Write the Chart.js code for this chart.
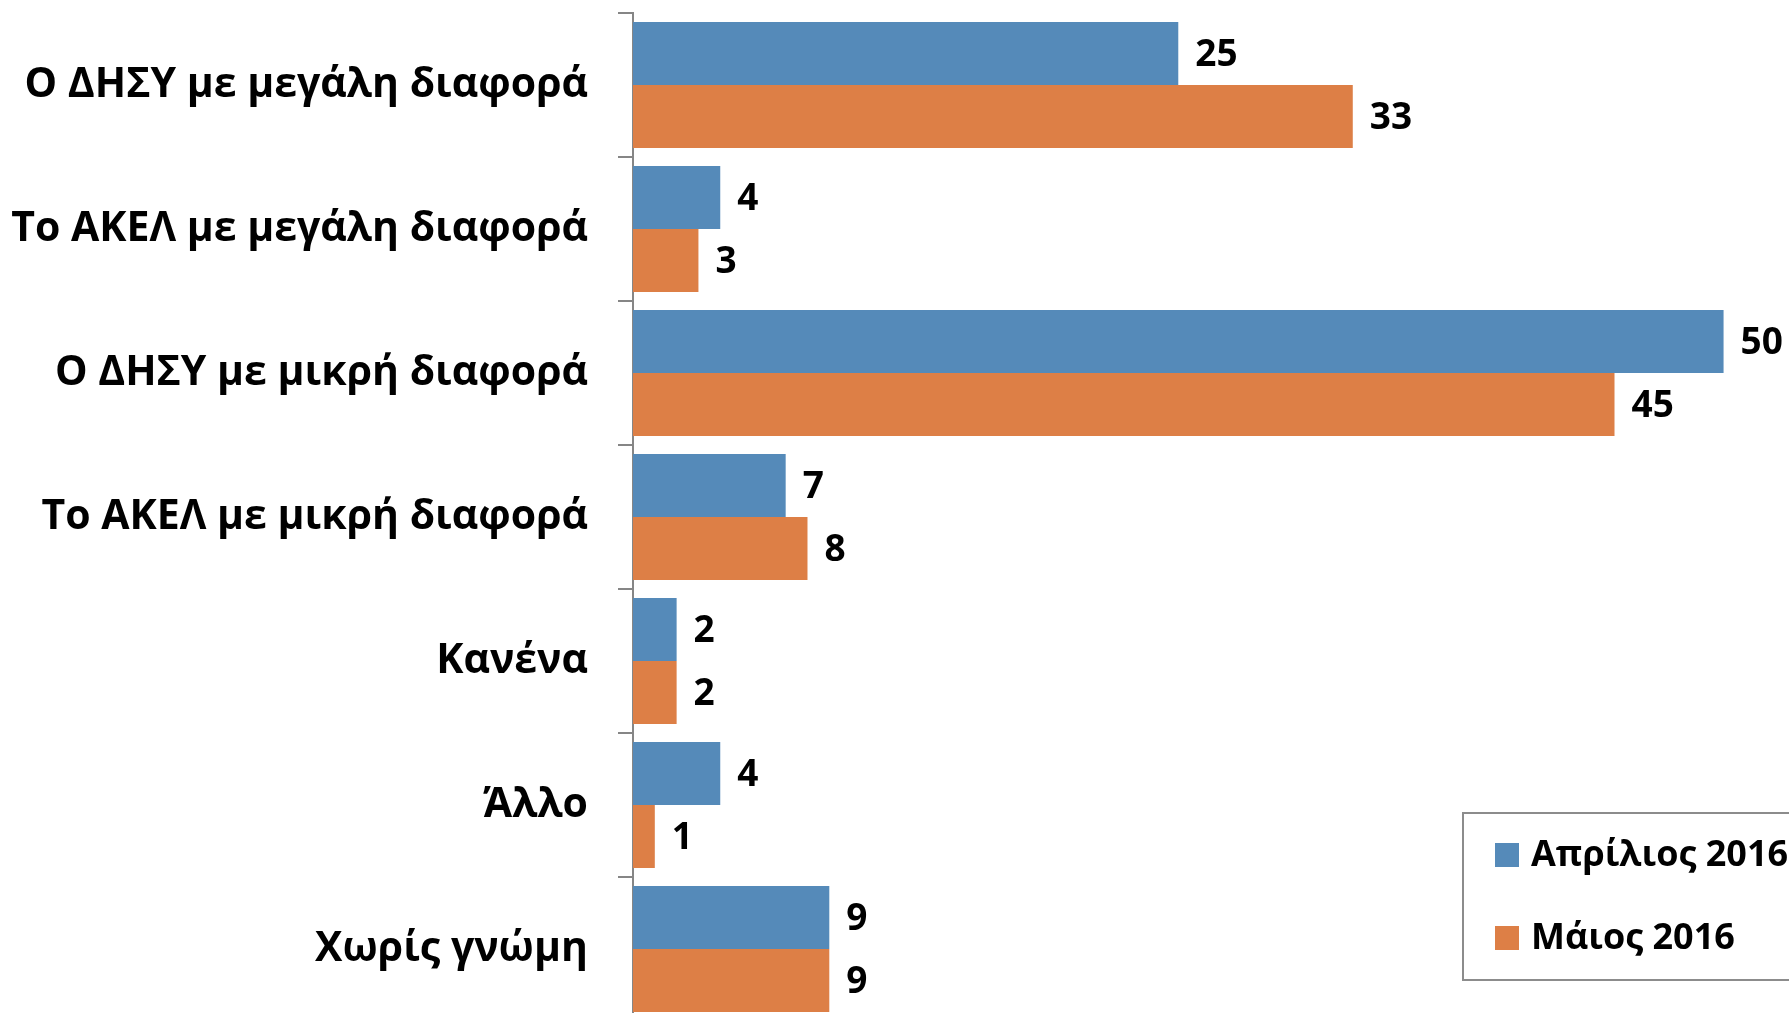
<!DOCTYPE html>
<html>
<head>
<meta charset="utf-8">
<script src="https://cdn.jsdelivr.net/npm/chart.js@4/dist/chart.umd.min.js"></script>
<style>
  html, body { margin: 0; padding: 0; background: #fff; overflow: hidden; }
  #wrap { width: 1789px; height: 1021px; }
</style>
</head>
<body>
<div id="wrap"><canvas id="chart" width="1789" height="1021"></canvas></div>
<script>
const categories = [
  'Ο ΔΗΣΥ με μεγάλη διαφορά',
  'Το ΑΚΕΛ με μεγάλη διαφορά',
  'Ο ΔΗΣΥ με μικρή διαφορά',
  'Το ΑΚΕΛ με μικρή διαφορά',
  'Κανένα',
  'Άλλο',
  'Χωρίς γνώμη',
];
const april2016 = [25, 4, 50, 7, 2, 4, 9];
const may2016 = [33, 3, 45, 8, 2, 1, 9];
const seriesNames = ['Απρίλιος 2016', 'Μάιος 2016'];

const FONT = '"Open Sans", "Noto Sans", sans-serif';
const BLUE = '#558ab9';
const ORANGE = '#dd7f46';

// value labels to the right of each bar
const valueLabels = {
  id: 'valueLabels',
  afterDatasetsDraw(chart) {
    const ctx = chart.ctx;
    ctx.save();
    ctx.font = `bold 37px ${FONT}`;
    ctx.fillStyle = '#000';
    ctx.textAlign = 'left';
    ctx.textBaseline = 'middle';
    chart.data.datasets.forEach((ds, i) => {
      chart.getDatasetMeta(i).data.forEach((bar, j) => {
        ctx.fillText(String(ds.data[j]), bar.x + 17, bar.y + 2);
      });
    });
    ctx.restore();
  },
};

// boxed legend sitting over the bottom right of the plot
const boxLegend = {
  id: 'boxLegend',
  afterDraw(chart) {
    const ctx = chart.ctx;
    const x = 1463, y = 813, w = 340, h = 167;
    ctx.save();
    ctx.fillStyle = '#fff';
    ctx.fillRect(x, y, w, h);
    ctx.strokeStyle = '#8c8c8c';
    ctx.lineWidth = 2;
    ctx.strokeRect(x, y, w, h);
    ctx.font = `bold 36px ${FONT}`;
    ctx.textBaseline = 'middle';
    chart.data.datasets.forEach((ds, i) => {
      const cy = 855 + i * 83;
      ctx.fillStyle = ds.backgroundColor;
      ctx.fillRect(1495, cy - 12, 24, 24);
      ctx.fillStyle = '#000';
      ctx.fillText(ds.label, 1531, cy + 1);
    });
    ctx.restore();
  },
};

new Chart(document.getElementById('chart'), {
  type: 'bar',
  data: {
    labels: categories,
    datasets: [
      { label: seriesNames[0], data: april2016, backgroundColor: BLUE },
      { label: seriesNames[1], data: may2016, backgroundColor: ORANGE },
    ],
  },
  options: {
    indexAxis: 'y',
    responsive: false,
    animation: false,
    devicePixelRatio: 1,
    layout: { padding: { top: 13, right: 0, bottom: 0, left: 0 } },
    datasets: {
      bar: { categoryPercentage: 0.874, barPercentage: 1, borderWidth: 0 },
    },
    plugins: {
      legend: { display: false },
      tooltip: { enabled: false },
    },
    scales: {
      x: {
        display: false,
        min: 0,
        max: 53,
      },
      y: {
        afterFit(scale) {
          scale.width = 633;
          scale.paddingTop = 0;
          scale.paddingBottom = 0;
        },
        border: { display: true, color: '#868686', width: 2 },
        grid: {
          offset: true,
          drawOnChartArea: false,
          drawTicks: true,
          tickLength: 15,
          color: '#868686',
          lineWidth: 2,
        },
        ticks: {
          color: '#000',
          padding: 30,
          autoSkip: false,
          font: { family: FONT, size: 41, weight: 'bold' },
        },
      },
    },
  },
  plugins: [valueLabels, boxLegend],
});
</script>
</body>
</html>
